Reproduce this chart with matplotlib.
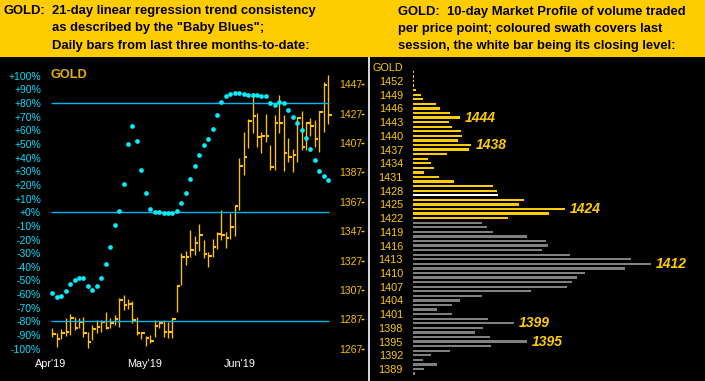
import numpy as np
import matplotlib
matplotlib.use('Agg')
import matplotlib.pyplot as plt
from matplotlib.patches import Rectangle

# ---------------- data ----------------
header_left = ["21-day linear regression trend consistency",
               "as described by the \"Baby Blues\";",
               "Daily bars from last three months-to-date:"]
header_right = ["GOLD:  10-day Market Profile of volume traded",
                "per price point; coloured swath covers last",
                "session, the white bar being its closing level:"]

# daily bars (high, low, close) and "Baby Blues" trend consistency (%)
bar_high = [1280.9, 1277.5, 1280.2, 1287.7, 1290.6, 1288.8, 1287.7, 1288.8, 1278.6, 1283.1,
            1286.5, 1286.5, 1292.0, 1287.7, 1290.0, 1301.4, 1303.7, 1300.6, 1299.3, 1288.8,
            1278.6, 1275.7, 1276.4, 1286.5, 1284.7, 1286.5, 1285.4, 1287.9, 1310.5, 1332.0,
            1333.6, 1347.8, 1343.8, 1351.9, 1341.0, 1332.7, 1341.7, 1346.3, 1361.4, 1346.3,
            1359.2, 1365.0, 1396.6, 1414.6, 1423.7, 1441.4, 1427.3, 1414.6, 1426.8, 1405.6,
            1426.1, 1439.5, 1426.1, 1410.2, 1403.0, 1425.0, 1428.5, 1421.6, 1424.3, 1422.7,
            1428.5, 1448.6, 1453.0]
bar_low = [1275.2, 1268.0, 1273.4, 1275.7, 1276.4, 1279.8, 1280.9, 1274.8, 1267.3, 1273.0,
           1277.5, 1278.6, 1280.2, 1280.9, 1283.1, 1282.0, 1293.3, 1294.0, 1284.3, 1276.4,
           1273.4, 1268.5, 1271.2, 1275.2, 1280.9, 1275.2, 1274.6, 1274.1, 1292.3, 1310.5,
           1324.0, 1329.3, 1331.0, 1333.8, 1328.5, 1322.9, 1329.7, 1335.0, 1341.0, 1335.8,
           1341.7, 1344.0, 1361.5, 1385.2, 1403.3, 1413.5, 1404.6, 1400.3, 1408.0, 1388.6,
           1388.7, 1413.5, 1388.3, 1394.4, 1387.6, 1394.4, 1402.4, 1402.4, 1412.1, 1404.6,
           1400.6, 1414.6, 1420.3]
bar_close = [1276.8, 1273.9, 1277.9, 1278.6, 1288.1, 1281.3, 1285.4, 1277.9, 1271.4, 1280.2,
             1282.0, 1285.4, 1281.3, 1284.7, 1287.0, 1300.2, 1296.8, 1297.3, 1286.5, 1277.9,
             1277.5, 1274.6, 1272.3, 1282.7, 1284.3, 1278.6, 1278.6, 1287.2, 1309.8, 1329.7,
             1329.5, 1334.3, 1339.2, 1344.6, 1331.3, 1330.4, 1336.5, 1345.1, 1344.6, 1342.6,
             1349.7, 1364.0, 1391.5, 1397.7, 1422.1, 1425.7, 1411.4, 1412.1, 1412.1, 1390.4,
             1420.7, 1420.7, 1400.3, 1397.2, 1398.7, 1424.0, 1404.6, 1420.5, 1418.3, 1409.6,
             1428.0, 1446.8, 1426.0]
baby_blues = [-59.1, -62.3, -61.6, -57.9, -52.4, -49.5, -48.0, -48.5, -54.3, -56.7,
              -54.3, -48.5, -38.3, -25.2, -9.2, 1.0, 20.4, 49.7, 62.8, 51.9,
              30.8, 13.8, 2.4, 0.2, 0.2, -0.5, -0.5, -0.5, 1.0, 6.8,
              14.1, 24.2, 33.5, 42.2, 49.0, 53.8, 61.1, 71.5, 80.7, 85.3,
              86.8, 87.5, 87.5, 86.8, 86.0, 85.5, 85.5, 84.8, 84.8, 80.2,
              78.8, 80.4, 79.8, 75.2, 69.8, 65.0, 59.9, 54.0, 46.5, 38.5,
              30.3, 26.4, 23.5]
month_labels = ["Apr'19", "May'19", "Jun'19"]
month_pos = [-0.3, 20.8, 42.2]
pct_ticks = list(range(-100, 101, 10))
price_ticks = list(range(1267, 1448, 20))
ref_levels = [80, 0, -80]

# 10-day market profile
profile_price = list(range(1454, 1387, -1))
profile_volume = [0.8, 0.8, 0.8, 0.8, 2.7, 7.7, 9.7, 22.7, 26.7, 36.7,
                  46.7, 36.0, 38.7, 47.7, 48.7, 44.7, 57.7, 55.7, 33.7, 14.7,
                  17.7, 20.7, 10.7, 25.7, 40.7, 79.7, 83.7, 84.7, 110.7, 105.7,
                  151.7, 135.7, 94.7, 68.7, 73.7, 79.7, 113.7, 132.7, 134.7, 128.7,
                  156.7, 217.7, 237.7, 211.7, 171.7, 163.7, 158.7, 153.7, 117.7, 68.7,
                  46.7, 38.7, 23.7, 38.7, 74.7, 100.7, 69.7, 61.7, 76.7, 113.7,
                  77.7, 36.7, 17.7, 9.7, 23.7, 10.7, 1.7]
session_low, session_high, session_close = 1422, 1454, 1427
profile_notes = [1444, 1438, 1424, 1412, 1399, 1395]
profile_ticks = list(range(1389, 1453, 3))

# ---------------- figure ----------------
W, H, DPI = 705, 381, 100
plt.rcParams['font.family'] = ['Liberation Sans', 'DejaVu Sans']
fig = plt.figure(figsize=(W / DPI, H / DPI), dpi=DPI, facecolor='black')
PT = 72.0 / DPI  # points per pixel

def px_axes(x0, y0, x1, y1):
    return fig.add_axes([x0 / W, 1 - y1 / H, (x1 - x0) / W, (y1 - y0) / H])

def ftext(x, y, s, **kw):
    fig.text(x / W, 1 - y / H, s, **kw)

YEL = '#FFCC00'
HDR_Y0 = 57
fig.add_artist(Rectangle((0, 1 - HDR_Y0 / H), 1, HDR_Y0 / H, transform=fig.transFigure,
                         facecolor=YEL, edgecolor='none'))
hfs = 9.35
ftext(4, 11, "GOLD:", fontsize=hfs, fontweight='bold', color='black', va='center')
for k, s in enumerate(header_left):
    ftext(52, 11 + k * 17.5, s, fontsize=hfs, fontweight='bold', color='black', va='center')
for k, s in enumerate(header_right):
    ftext(398.5, 11.5 + k * 17.5, s, fontsize=hfs, fontweight='bold', color='black', va='center')

# ---------------- left panel ----------------
LX0, LX1, LY0, LY1 = 0, 364, HDR_Y0, 381
ax2 = px_axes(LX0, LY0, LX1, LY1)  # price axis (drawn below)
ax = ax2.twinx()                    # percent axis (drawn on top)
ax.yaxis.tick_left()
ax2.yaxis.tick_right()
ax2.set_facecolor('black')
ax.patch.set_visible(False)
ax.set_zorder(ax2.get_zorder() + 1)

x0px, dx = 52.3, 4.45
ax2.set_xlim((LX0 - x0px) / dx, (LX1 - x0px) / dx)
# percent: y = 212.2 - 1.365 q ; price: y = 348.7 - 1.469 (p - 1267)
ax.set_ylim((212.2 - LY1) / 1.365, (212.2 - LY0) / 1.365)
ax2.set_ylim(1267 + (348.7 - LY1) / 1.469, 1267 + (348.7 - LY0) / 1.469)

idx = np.arange(len(bar_close))
BAR = '#FFC200'
ax2.vlines(idx, bar_low, bar_high, color=BAR, lw=0.95)
ax2.hlines(bar_close, idx, idx + 0.8, color=BAR, lw=1.5)

ax.hlines(ref_levels, idx[0] - 0.4, idx[-1] + 0.2, color='#00B8F0', lw=1.0)
ax.plot(idx, baby_blues, 'o', ms=3.4, mew=0, color='#00F0FF')

for a in (ax, ax2):
    for sp in a.spines.values():
        sp.set_visible(False)

ax.set_yticks(pct_ticks)
ax.set_yticklabels([f"{v:+d}%" for v in pct_ticks])
ax.tick_params(axis='y', length=0, pad=-41 * PT, labelsize=7.5, labelcolor='#00E0FF')
ax2.set_yticks(price_ticks)
ax2.set_yticklabels([str(v) for v in price_ticks])
ax2.tick_params(axis='y', direction='in', length=3 * PT, width=1, color=BAR,
                pad=-25 * PT, labelsize=7.5, labelcolor='#F5C000')
ax2.set_xticks(month_pos)
ax2.set_xticklabels(month_labels)
ax2.tick_params(axis='x', length=0, pad=-22 * PT, labelsize=7.8, labelcolor='white')
ax.tick_params(axis='x', length=0, labelbottom=False)

ftext(51, 75.5, "GOLD", fontsize=9.2, fontweight='bold', color='#E8B000', va='center')

# ---------------- right panel ----------------
RX0, RX1 = 369, 705
bx0 = 413
axr = px_axes(RX0, HDR_Y0, RX1, H)
axr.set_facecolor('black')
axr.set_xlim(RX0 - bx0, RX1 - bx0)
axr.set_ylim(1389 - 12 / 4.571, 1452 + 24 / 4.571)
colors = []
for p in profile_price:
    if p == session_close:
        colors.append('white')
    elif session_low <= p <= session_high:
        colors.append(YEL)
    else:
        colors.append('#808080')
axr.barh(profile_price, profile_volume, height=0.52, left=0, color=colors, linewidth=0)
vol_of = dict(zip(profile_price, profile_volume))
for p in profile_notes:
    axr.annotate(str(p), (vol_of[p], p), xytext=(3.3, 0), textcoords='offset points',
                 fontsize=10, fontweight='bold', fontstyle='italic', color=YEL,
                 va='center', ha='left')
for name, sp in axr.spines.items():
    sp.set_visible(name == 'left')
axr.spines['left'].set_color('white')
axr.spines['left'].set_linewidth(1.2)
axr.set_xticks([])
axr.set_yticks(profile_ticks + [1455])
axr.set_yticklabels([str(v) for v in profile_ticks] + ["GOLD"])
axr.tick_params(axis='y', length=0, pad=-34 * PT, labelsize=7.8, labelcolor=YEL)

fig.savefig('out.png', dpi=DPI, facecolor='black')
